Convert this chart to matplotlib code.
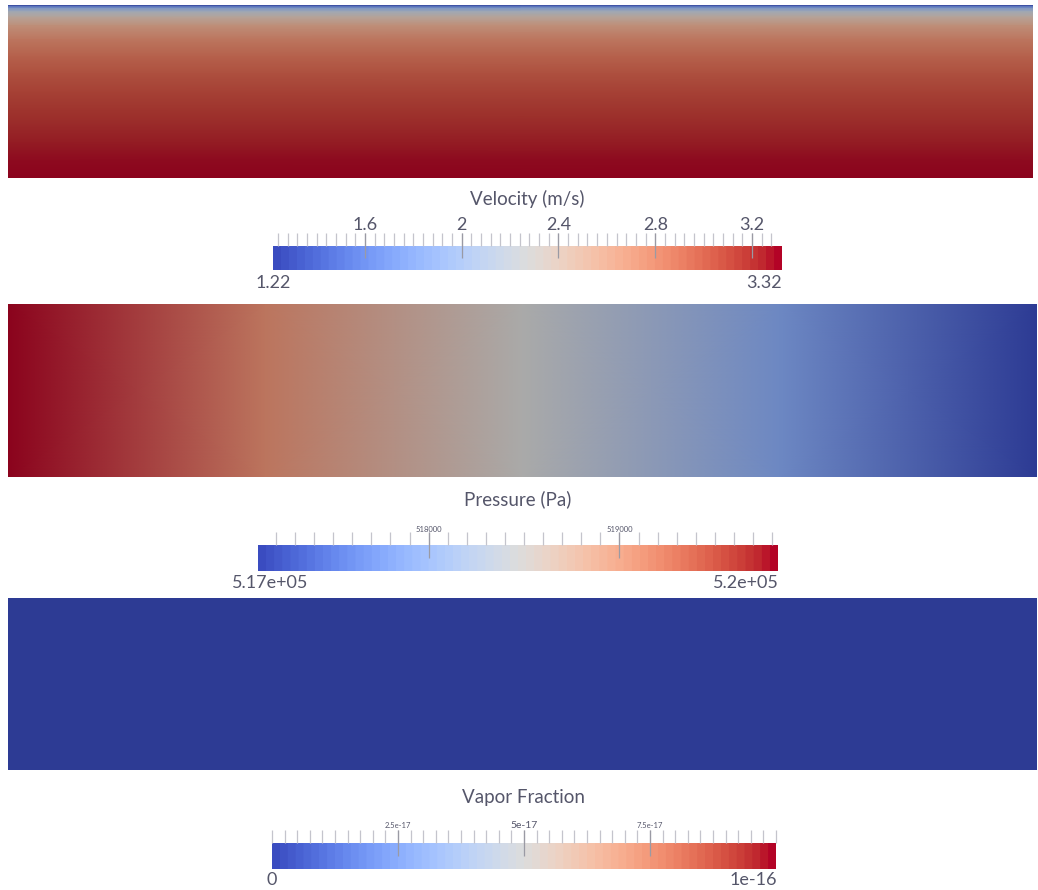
import numpy as np
import matplotlib.pyplot as plt
from matplotlib.colors import ListedColormap

# velocity profile across the channel (depth 0 = top wall, 1 = bottom)
velocity_depth = [0.0, 0.01, 0.02, 0.04, 0.07, 0.12, 0.2, 0.3, 0.4, 0.5, 0.6, 0.7, 0.8, 0.9, 1.0]
velocity_values = [1.22, 1.6, 1.9, 2.18, 2.4, 2.62, 2.8, 2.93, 3.03, 3.1, 3.16, 3.21, 3.26, 3.3, 3.32]
velocity_range = [1.22, 3.32]

# pressure along the channel (x 0 = inlet, 1 = outlet)
pressure_x = [0.0, 0.25, 0.5, 0.75, 1.0]
pressure_values = [519831, 519150, 518470, 517790, 517106]
pressure_range = [517106, 519831]

# vapor fraction along the channel
vapor_x = [0.0, 1.0]
vapor_values = [0.0, 0.0]
vapor_range = [0.0, 1e-16]

W, H = 1038, 890
fig = plt.figure(figsize=(W / 100, H / 100), dpi=100)
plt.rcParams['font.family'] = ['Lato', 'DejaVu Sans']

base = plt.get_cmap('coolwarm')
field_cmap = ListedColormap(base(np.linspace(0, 1, 256))[:, :3] * 0.77)
bar_cmap = plt.get_cmap('coolwarm', 64)
text_color = '#55566a'


def px_axes(x0, y0, x1, y1):
    ax = fig.add_axes([x0 / W, 1 - y1 / H, (x1 - x0) / W, (y1 - y0) / H])
    ax.set_axis_off()
    return ax


def ftext(x, y, s, **kw):
    fig.text(x / W, 1 - y / H, s, color=text_color, **kw)


# velocity field (varies over depth)
ax = px_axes(8, 5, 1033, 178)
xx, yy = np.meshgrid([0, 1], velocity_depth)
cc = np.repeat(np.array(velocity_values)[:, None], 2, axis=1)
ax.pcolormesh(xx, yy, cc, shading='gouraud', cmap=field_cmap,
              vmin=velocity_range[0], vmax=velocity_range[1])
ax.set_xlim(0, 1)
ax.set_ylim(1, 0)

# pressure field (varies along x)
ax = px_axes(8, 304, 1037, 477)
xx, yy = np.meshgrid(pressure_x, [0, 1])
cc = np.repeat(np.array(pressure_values)[None, :], 2, axis=0)
ax.pcolormesh(xx, yy, cc, shading='gouraud', cmap=field_cmap,
              vmin=pressure_range[0], vmax=pressure_range[1])
ax.set_xlim(0, 1)
ax.set_ylim(0, 1)

# vapor fraction field
ax = px_axes(8, 598, 1037, 770)
xx, yy = np.meshgrid(vapor_x, [0, 1])
cc = np.repeat(np.array(vapor_values)[None, :], 2, axis=0)
ax.pcolormesh(xx, yy, cc, shading='gouraud', cmap=field_cmap,
              vmin=vapor_range[0], vmax=vapor_range[1])
ax.set_xlim(0, 1)
ax.set_ylim(0, 1)


def colorbar(box, vrange, title, title_y, majors, major_labels, minors,
             label_sizes, label_y, end_labels, end_x, end_y, end_size):
    x0, y0, x1, y1 = box
    h = y1 - y0
    ax = px_axes(x0, y0, x1, y1)
    vmin, vmax = vrange
    grad = np.linspace(vmin, vmax, 512)[None, :]
    ax.imshow(grad, aspect='auto', cmap=bar_cmap, vmin=vmin, vmax=vmax,
              extent=[vmin, vmax, 0, 1])
    ax.set_xlim(vmin, vmax)
    ax.set_ylim(0, 1)
    tr = ax.get_xaxis_transform()
    ax.vlines(minors, 1.0, 1 + 13 / h, color='#c4c4cc', lw=0.9,
              transform=tr, clip_on=False)
    ax.vlines(majors, 0.5, 1 + 13 / h, color='#9a9aa4', lw=0.9,
              transform=tr, clip_on=False)
    for v, s, fs in zip(majors, major_labels, label_sizes):
        ax.text(v, (y1 - label_y) / h, s, ha='center', va='center',
                fontsize=fs, color=text_color, transform=tr, clip_on=False)
    ftext((x0 + x1) / 2, title_y, title, ha='center', va='center', fontsize=13.5)
    ftext(end_x[0], end_y, end_labels[0], ha='center', va='center', fontsize=end_size)
    ftext(end_x[1], end_y, end_labels[1], ha='right', va='center', fontsize=end_size)


colorbar((273, 246, 781, 270), velocity_range, 'Velocity (m/s)', 199,
         [1.6, 2.0, 2.4, 2.8, 3.2], ['1.6', '2', '2.4', '2.8', '3.2'],
         np.arange(1.24, 3.32, 0.04), [13] * 5, 225,
         ['1.22', '3.32'], [273, 782], 283, 13)

colorbar((258, 545, 778, 571), pressure_range, 'Pressure (Pa)', 499,
         [518000, 519000], ['518000', '519000'],
         np.arange(517200, 519831, 100), [5.5, 5.5], 529,
         ['5.17e+05', '5.2e+05'], [270, 779], 583, 13)

colorbar((272, 843, 776, 869), vapor_range, 'Vapor Fraction', 797,
         [2.5e-17, 5e-17, 7.5e-17], ['2.5e-17', '5e-17', '7.5e-17'],
         np.arange(0, 1.0001e-16, 2.5e-18), [5.5, 7.5, 5.5], 826,
         ['0', '1e-16'], [272, 777], 880, 13)

fig.savefig('out.png', dpi=100, facecolor='white')
